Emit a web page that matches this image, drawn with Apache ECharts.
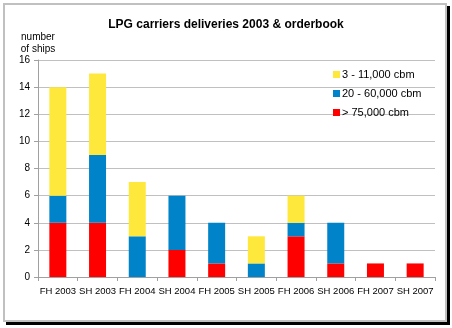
<!DOCTYPE html>
<html><head><meta charset="utf-8">
<script src="https://cdn.jsdelivr.net/npm/echarts@6/dist/echarts.min.js"></script>
<style>
html,body{margin:0;padding:0;background:#fff;}
#frame{position:absolute;left:3px;top:3px;width:440px;height:315px;border:2px solid #c0c0c0;box-shadow:3px 3px 0 #000;background:#fff;}
#c{position:absolute;left:0;top:0;width:452px;height:328px;}
</style></head><body>
<div id="frame"></div>
<div id="c"></div>
<script>
const categories = ['FH 2003','SH 2003','FH 2004','SH 2004','FH 2005','SH 2005','FH 2006','SH 2006','FH 2007','SH 2007'];
const large = [4,4,0,2,1,0,3,1,1,1];      // > 75,000 cbm
const medium = [2,5,3,4,3,1,1,3,0,0];     // 20 - 60,000 cbm
const small = [8,6,4,0,0,2,2,0,0,0];      // 3 - 11,000 cbm
const yTicks = [0,2,4,6,8,10,12,14,16];

const chart = echarts.init(document.getElementById('c'), null, {renderer:'canvas'});
const font = 'Liberation Sans, Arial, sans-serif';
chart.setOption({
  animation:false,
  backgroundColor:'transparent',
  title:{text:'LPG carriers deliveries 2003 & orderbook',left:'center',top:14,
    textStyle:{fontSize:12,fontWeight:'bold',color:'#000',fontFamily:font}},
  legend:{orient:'vertical',left:328,top:64,itemWidth:7,itemHeight:7,itemGap:8,
    icon:'rect',textStyle:{fontSize:11,color:'#000',fontFamily:font,padding:[0,0,0,-3]},
    data:['3 - 11,000 cbm','20 - 60,000 cbm','> 75,000 cbm']},
  grid:{left:38,right:17,top:60,bottom:51},
  xAxis:{type:'category',data:categories,
    axisLine:{lineStyle:{color:'#a0a0a0'}},
    axisTick:{show:true,length:4,lineStyle:{color:'#a0a0a0'}},
    axisLabel:{fontSize:9.5,color:'#000',fontFamily:font,margin:9,interval:0}},
  yAxis:{type:'value',min:0,max:16,interval:2,
    name:'number\nof ships',nameLocation:'end',nameGap:5,
    nameTextStyle:{fontSize:10,color:'#000',fontFamily:font,align:'center',lineHeight:12,padding:[0,0,0,0]},
    axisLine:{show:true,lineStyle:{color:'#a0a0a0'}},
    axisTick:{show:true,length:4,lineStyle:{color:'#a0a0a0'}},
    axisLabel:{fontSize:10,color:'#000',fontFamily:font,margin:8,
      formatter:v=>yTicks.includes(v)?String(v):''},
    splitLine:{lineStyle:{color:'#c0c0c0'}}},
  series:[
    {name:'> 75,000 cbm',type:'bar',stack:'s',data:large,barWidth:17,itemStyle:{color:'#ff0000'}},
    {name:'20 - 60,000 cbm',type:'bar',stack:'s',data:medium,barWidth:17,itemStyle:{color:'#0083c8'}},
    {name:'3 - 11,000 cbm',type:'bar',stack:'s',data:small,barWidth:17,itemStyle:{color:'#ffe83c'}}
  ]
});
</script>
</body></html>
